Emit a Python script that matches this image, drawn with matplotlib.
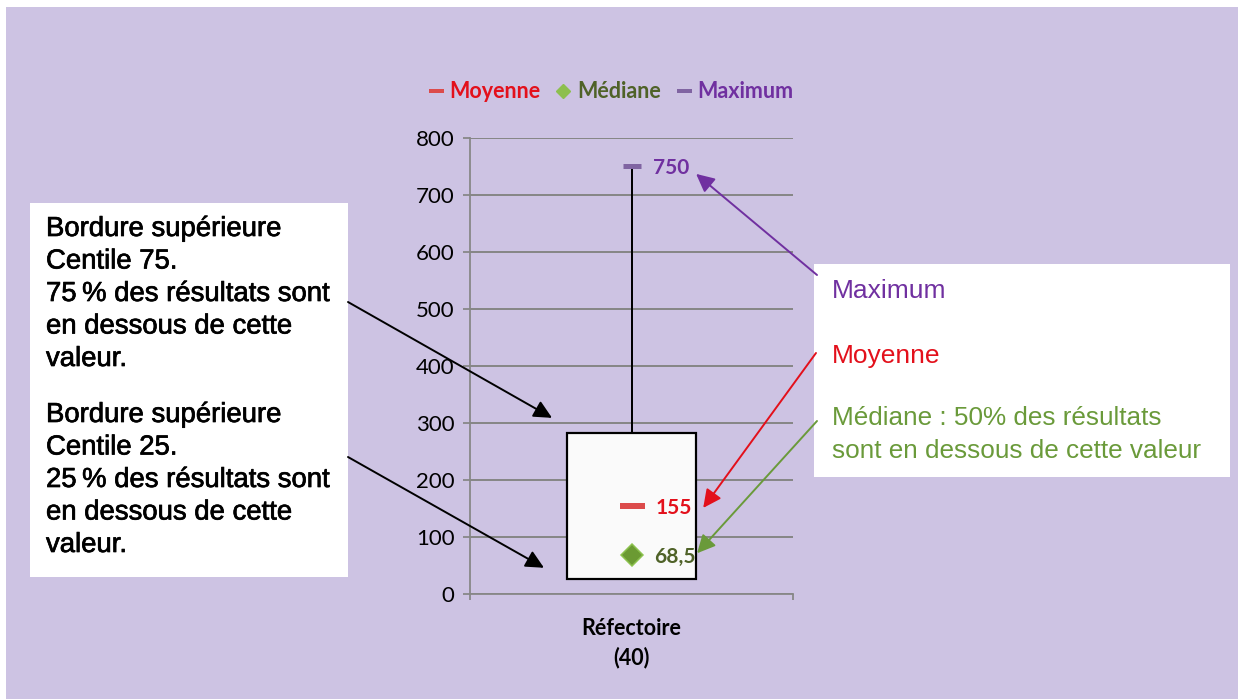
import matplotlib
matplotlib.use('Agg')
import matplotlib.pyplot as plt
from matplotlib.patches import Rectangle
from matplotlib.lines import Line2D
import matplotlib.patheffects as pe

# ---------------- data ----------------
categories = ['Réfectoire\n(40)']
q1_values = [26]
q3_values = [283]
mean_values = [155]
median_values = [68.5]
max_values = [750]
mean_labels = ['155']
median_labels = ['68,5']
max_labels = ['750']
yticks = [0, 100, 200, 300, 400, 500, 600, 700, 800]
legend_labels = ['Moyenne', 'Médiane', 'Maximum']

left_lines_top = ['Bordure supérieure', 'Centile 75.', '75\u2009% des résultats sont',
                  'en dessous de cette', 'valeur.']
left_lines_bottom = ['Bordure supérieure', 'Centile 25.', '25\u2009% des résultats sont',
                     'en dessous de cette', 'valeur.']
right_max_text = 'Maximum'
right_mean_text = 'Moyenne'
right_median_lines = ['Médiane : 50% des résultats', 'sont en dessous de cette valeur']

# ---------------- style ----------------
W, H = 1238, 699
DPI = 100
BG = '#CDC3E3'
GRID = '#878787'
RED_MARK = '#DC4B4B'
RED_TXT = '#E3101B'
GREEN_FILL = '#6B9A33'
GREEN_EDGE = '#8CC24E'
GREEN_TXT = '#4F6228'
GREEN_NOTE = '#6A9A3A'
PURPLE_MARK = '#8064A2'
PURPLE_TXT = '#7030A0'
CHART_FONT = ['Lato', 'DejaVu Sans']
NOTE_FONT = ['Liberation Sans', 'DejaVu Sans']

def px(v):
    return v * 72.0 / DPI

fig = plt.figure(figsize=(W / DPI, H / DPI), dpi=DPI)
fig.patch.set_facecolor('white')
fig.patches.append(Rectangle((6 / W, 0), 1 - 6 / W, 1 - 7 / H, transform=fig.transFigure,
                             facecolor=BG, edgecolor='none', zorder=-10))

ax = fig.add_axes([470 / W, 1 - 594 / H, 323 / W, 456 / H])
ax.set_facecolor('none')
ax.set_xlim(-0.5, len(categories) - 0.5)
ax.set_ylim(0, 800)

for s in ['top', 'right']:
    ax.spines[s].set_visible(False)
for s in ['left', 'bottom']:
    ax.spines[s].set_color(GRID)
    ax.spines[s].set_linewidth(px(1.8))
ax.set_yticks(yticks)
ax.set_yticklabels([str(t) for t in yticks], fontfamily=CHART_FONT, fontsize=16)
ax.tick_params(axis='y', direction='out', length=px(7), width=px(1.8), color=GRID, pad=6)
ax.yaxis.grid(True, color=GRID, linewidth=px(2))
ax.set_axisbelow(True)

xs = list(range(len(categories)))
ax.set_xticks(xs)
ax.set_xticklabels(categories, fontfamily=CHART_FONT, fontsize=15.5, fontweight='bold',
                   linespacing=1.45)
ax.set_xticks([x - 0.5 for x in xs] + [xs[-1] + 0.5], minor=True)
ax.tick_params(axis='x', which='major', length=0, pad=17)
ax.tick_params(axis='x', which='minor', direction='out', length=px(6), width=px(1.8), color=GRID)

# box
heights = [q3 - q1 for q1, q3 in zip(q1_values, q3_values)]
ax.bar(xs, heights, bottom=q1_values, width=0.4, color='#FAFAFA', edgecolor='black',
       linewidth=px(2.2), zorder=3)
# whisker
ax.vlines(xs, q3_values, max_values, color='black', linewidth=px(2), zorder=2)
# markers
ax.plot(xs, max_values, linestyle='none', marker='_', markersize=px(18),
        markeredgewidth=px(5), color=PURPLE_MARK, zorder=4)
ax.plot(xs, mean_values, linestyle='none', marker='_', markersize=px(25),
        markeredgewidth=px(6), color=RED_MARK, zorder=4)
ax.plot(xs, median_values, linestyle='none', marker='D', markersize=px(15.5),
        markerfacecolor=GREEN_FILL, markeredgecolor=GREEN_EDGE, markeredgewidth=px(1.5), zorder=4)

lab_kw = dict(textcoords='offset points', va='center', ha='left', fontfamily=CHART_FONT,
              fontsize=15, fontweight='bold', zorder=5)
for x, v, lab in zip(xs, max_values, max_labels):
    ax.annotate(lab, (x, v), xytext=(px(22), px(-2)), color=PURPLE_TXT, **lab_kw)
for x, v, lab in zip(xs, mean_values, mean_labels):
    ax.annotate(lab, (x, v), xytext=(px(24), px(-2)), color=RED_TXT, **lab_kw)
for x, v, lab in zip(xs, median_values, median_labels):
    ax.annotate(lab, (x, v), xytext=(px(23), px(-2)), color=GREEN_TXT, **lab_kw)

# legend
handles = [
    Line2D([], [], linestyle='none', marker='_', markersize=px(15), markeredgewidth=px(4), color=RED_MARK),
    Line2D([], [], linestyle='none', marker='D', markersize=px(10), markerfacecolor='#8DBF4F',
           markeredgecolor='#8DBF4F'),
    Line2D([], [], linestyle='none', marker='_', markersize=px(15), markeredgewidth=px(4), color=PURPLE_MARK),
]
leg = fig.legend(handles, legend_labels, loc='center', bbox_to_anchor=(611 / W, 1 - 92 / H),
                 ncol=3, frameon=False, handlelength=0.7, handletextpad=0.3, columnspacing=0.7,
                 labelcolor=[RED_TXT, GREEN_TXT, PURPLE_TXT],
                 prop={'family': CHART_FONT, 'size': 15.5, 'weight': 'bold'})

# ---------------- annotation boxes ----------------
def fig_rect(x0, y0, x1, y1):
    fig.patches.append(Rectangle((x0 / W, 1 - y1 / H), (x1 - x0) / W, (y1 - y0) / H,
                                 transform=fig.transFigure, facecolor='white',
                                 edgecolor='none', zorder=-5))

fig_rect(30, 203, 348, 577)
fig_rect(814, 264, 1230, 477)

heavy = [pe.withStroke(linewidth=0.5, foreground='black')]
left_base_top = [236, 268.5, 301, 333.5, 366]
left_base_bottom = [422, 454.5, 487, 519.5, 552]
for line, yb in zip(left_lines_top, left_base_top):
    fig.text(46 / W, 1 - yb / H, line, ha='left', va='baseline', fontfamily=NOTE_FONT,
             fontsize=19.8, color='black', path_effects=heavy)
for line, yb in zip(left_lines_bottom, left_base_bottom):
    fig.text(46 / W, 1 - yb / H, line, ha='left', va='baseline', fontfamily=NOTE_FONT,
             fontsize=19.8, color='black', path_effects=heavy)

fig.text(832 / W, 1 - 298 / H, right_max_text, ha='left', va='baseline', fontfamily=NOTE_FONT,
         fontsize=19, color=PURPLE_TXT)
fig.text(832 / W, 1 - 363 / H, right_mean_text, ha='left', va='baseline', fontfamily=NOTE_FONT,
         fontsize=19, color=RED_TXT)
for line, yb in zip(right_median_lines, [425, 458]):
    fig.text(832 / W, 1 - yb / H, line, ha='left', va='baseline', fontfamily=NOTE_FONT,
             fontsize=18.8, color=GREEN_NOTE)

# ---------------- arrows ----------------
def arrow(tip, tail_px, color, lw=1.4):
    ax.annotate('', xy=tip, xycoords='data', xytext=(tail_px[0], H - tail_px[1]),
                textcoords='figure pixels', annotation_clip=False,
                arrowprops=dict(arrowstyle='-|>,head_length=0.55,head_width=0.27',
                                mutation_scale=20, color=color, lw=lw,
                                shrinkA=0, shrinkB=0), zorder=6)

arrow((0.20, max_values[0] - 13), (817, 275), PURPLE_TXT)
arrow((0.222, mean_values[0] - 4), (816, 353), RED_TXT)
arrow((0.203, median_values[0] + 3), (817, 421), GREEN_NOTE)
arrow((-0.246, q3_values[0] + 26), (348, 302), 'black')
arrow((-0.271, q1_values[0] + 20), (348, 457), 'black')

fig.savefig('out.png', dpi=DPI)
